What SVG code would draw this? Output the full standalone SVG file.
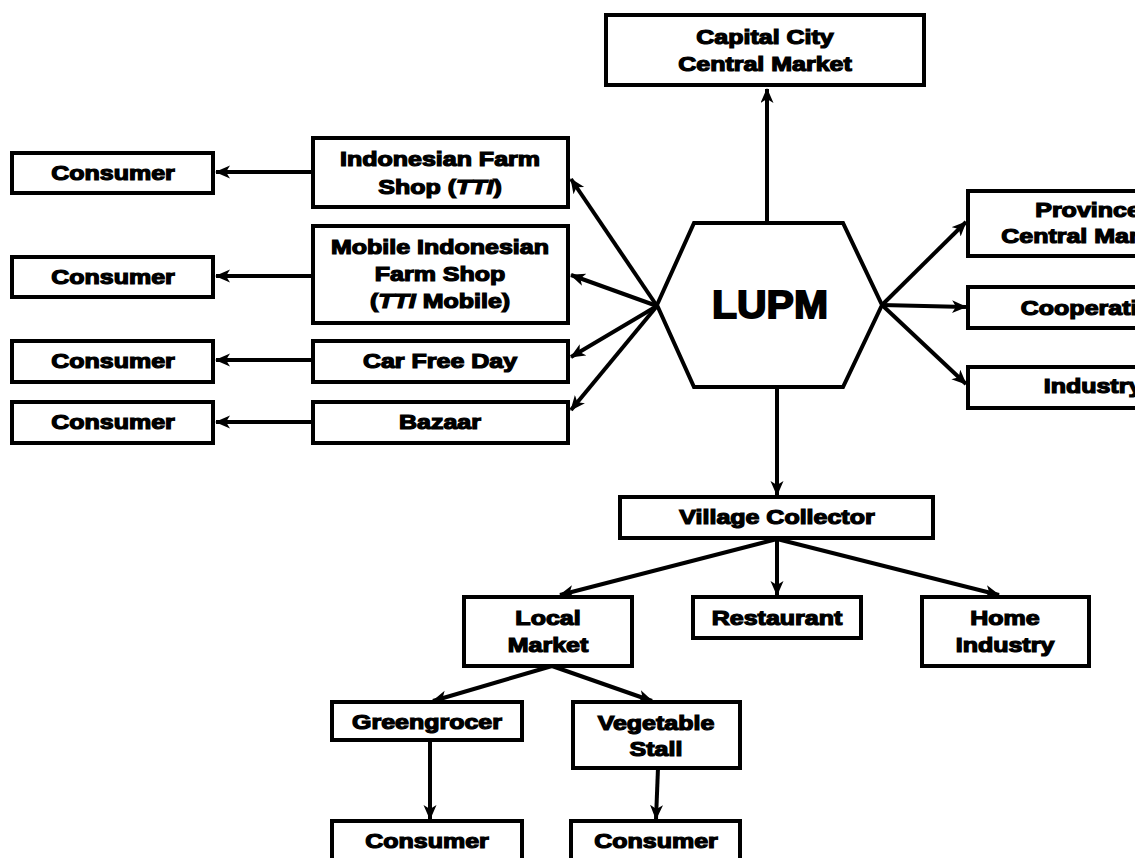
<svg xmlns="http://www.w3.org/2000/svg" width="1135" height="858" viewBox="0 0 1135 858">
<style>
.box{fill:#fff;stroke:#000;stroke-width:4}
.t{font-family:"Liberation Sans",Arial,sans-serif;font-weight:bold;font-size:20px;text-anchor:middle;fill:#000;stroke:#000;stroke-width:1.2}
.big{font-size:39px;stroke-width:1.8}
.c{fill:none;stroke:#000;stroke-width:4}
</style>
<defs>
<marker id="ah" markerUnits="userSpaceOnUse" markerWidth="16" markerHeight="14" refX="14" refY="6.5" orient="auto">
<path d="M0,0 L15,6.5 L0,13 L4,6.5 z" fill="#000"/>
</marker>
</defs>
<rect width="1135" height="858" fill="#fff"/>
<g id="connectors">
<line class="c" x1="767" y1="223" x2="767" y2="89" marker-end="url(#ah)"/>
<line class="c" x1="777" y1="387" x2="777" y2="495" marker-end="url(#ah)"/>
<line class="c" x1="882" y1="305" x2="966" y2="222" marker-end="url(#ah)"/>
<line class="c" x1="882" y1="305" x2="966" y2="307" marker-end="url(#ah)"/>
<line class="c" x1="882" y1="305" x2="966" y2="384" marker-end="url(#ah)"/>
<line class="c" x1="657" y1="306" x2="571" y2="179" marker-end="url(#ah)"/>
<line class="c" x1="657" y1="306" x2="571" y2="275" marker-end="url(#ah)"/>
<line class="c" x1="657" y1="306" x2="571" y2="357" marker-end="url(#ah)"/>
<line class="c" x1="657" y1="306" x2="571" y2="410" marker-end="url(#ah)"/>
<line class="c" x1="311" y1="172" x2="216" y2="172" marker-end="url(#ah)"/>
<line class="c" x1="311" y1="276" x2="216" y2="276" marker-end="url(#ah)"/>
<line class="c" x1="311" y1="360" x2="216" y2="360" marker-end="url(#ah)"/>
<line class="c" x1="311" y1="422" x2="216" y2="422" marker-end="url(#ah)"/>
<line class="c" x1="777" y1="539" x2="560" y2="595" marker-end="url(#ah)"/>
<line class="c" x1="777" y1="539" x2="777" y2="595" marker-end="url(#ah)"/>
<line class="c" x1="777" y1="539" x2="999" y2="595" marker-end="url(#ah)"/>
<line class="c" x1="552" y1="666" x2="433" y2="701" marker-end="url(#ah)"/>
<line class="c" x1="552" y1="666" x2="652" y2="701" marker-end="url(#ah)"/>
<line class="c" x1="430" y1="740" x2="430" y2="819" marker-end="url(#ah)"/>
<line class="c" x1="658" y1="768" x2="656" y2="819" marker-end="url(#ah)"/>
</g>
<g id="capital">
<rect class="box" x="606" y="15" width="318" height="70"/>
<text class="t" transform="translate(765,44) scale(1.25,1)">Capital City</text>
<text class="t" transform="translate(765,71) scale(1.25,1)">Central Market</text>
</g>
<g id="lupm">
<polygon class="box" points="694,223 843,223 882,305 843,387 694,387 657,305"/>
<text class="t big" transform="translate(770,318) scale(1.05,1)">LUPM</text>
</g>
<g id="province">
<rect class="box" x="968" y="191" width="240" height="65"/>
<text class="t" transform="translate(1088,217) scale(1.25,1)">Province</text>
<text class="t" transform="translate(1088,243) scale(1.25,1)">Central Market</text>
</g>
<g id="cooperative">
<rect class="box" x="968" y="287" width="240" height="41"/>
<text class="t" transform="translate(1093,315) scale(1.25,1)">Cooperative</text>
</g>
<g id="industry">
<rect class="box" x="968" y="367" width="240" height="41"/>
<text class="t" transform="translate(1093,393) scale(1.25,1)">Industry</text>
</g>
<g id="farmshop">
<rect class="box" x="313" y="138" width="255" height="69"/>
<text class="t" transform="translate(440,166) scale(1.25,1)">Indonesian Farm</text>
<text class="t" transform="translate(440,194) scale(1.25,1)">Shop (<tspan font-style="italic">TTI</tspan>)</text>
</g>
<g id="mobile">
<rect class="box" x="313" y="226" width="255" height="97"/>
<text class="t" transform="translate(440,254) scale(1.25,1)">Mobile Indonesian</text>
<text class="t" transform="translate(440,281) scale(1.25,1)">Farm Shop</text>
<text class="t" transform="translate(440,308) scale(1.25,1)">(<tspan font-style="italic">TTI</tspan> Mobile)</text>
</g>
<g id="carfree">
<rect class="box" x="313" y="341" width="255" height="41"/>
<text class="t" transform="translate(440,368) scale(1.25,1)">Car Free Day</text>
</g>
<g id="bazaar">
<rect class="box" x="313" y="402" width="255" height="41"/>
<text class="t" transform="translate(440,429) scale(1.25,1)">Bazaar</text>
</g>
<g id="consumer1">
<rect class="box" x="12" y="153" width="201" height="40"/>
<text class="t" transform="translate(113,180) scale(1.25,1)">Consumer</text>
</g>
<g id="consumer2">
<rect class="box" x="12" y="257" width="201" height="40"/>
<text class="t" transform="translate(113,284) scale(1.25,1)">Consumer</text>
</g>
<g id="consumer3">
<rect class="box" x="12" y="341" width="201" height="41"/>
<text class="t" transform="translate(113,368) scale(1.25,1)">Consumer</text>
</g>
<g id="consumer4">
<rect class="box" x="12" y="402" width="201" height="41"/>
<text class="t" transform="translate(113,429) scale(1.25,1)">Consumer</text>
</g>
<g id="village">
<rect class="box" x="620" y="497" width="313" height="41"/>
<text class="t" transform="translate(777,524) scale(1.25,1)">Village Collector</text>
</g>
<g id="localmarket">
<rect class="box" x="464" y="597" width="168" height="69"/>
<text class="t" transform="translate(548,625) scale(1.25,1)">Local</text>
<text class="t" transform="translate(548,652) scale(1.25,1)">Market</text>
</g>
<g id="restaurant">
<rect class="box" x="693" y="597" width="168" height="41"/>
<text class="t" transform="translate(777,625) scale(1.25,1)">Restaurant</text>
</g>
<g id="homeindustry">
<rect class="box" x="922" y="597" width="167" height="69"/>
<text class="t" transform="translate(1005,625) scale(1.25,1)">Home</text>
<text class="t" transform="translate(1005,652) scale(1.25,1)">Industry</text>
</g>
<g id="greengrocer">
<rect class="box" x="332" y="702" width="190" height="38"/>
<text class="t" transform="translate(427,729) scale(1.25,1)">Greengrocer</text>
</g>
<g id="vegstall">
<rect class="box" x="573" y="702" width="167" height="66"/>
<text class="t" transform="translate(656,730) scale(1.25,1)">Vegetable</text>
<text class="t" transform="translate(656,756) scale(1.25,1)">Stall</text>
</g>
<g id="consumer5">
<rect class="box" x="332" y="821" width="190" height="60"/>
<text class="t" transform="translate(427,848) scale(1.25,1)">Consumer</text>
</g>
<g id="consumer6">
<rect class="box" x="571" y="821" width="169" height="60"/>
<text class="t" transform="translate(656,848) scale(1.25,1)">Consumer</text>
</g>
</svg>
